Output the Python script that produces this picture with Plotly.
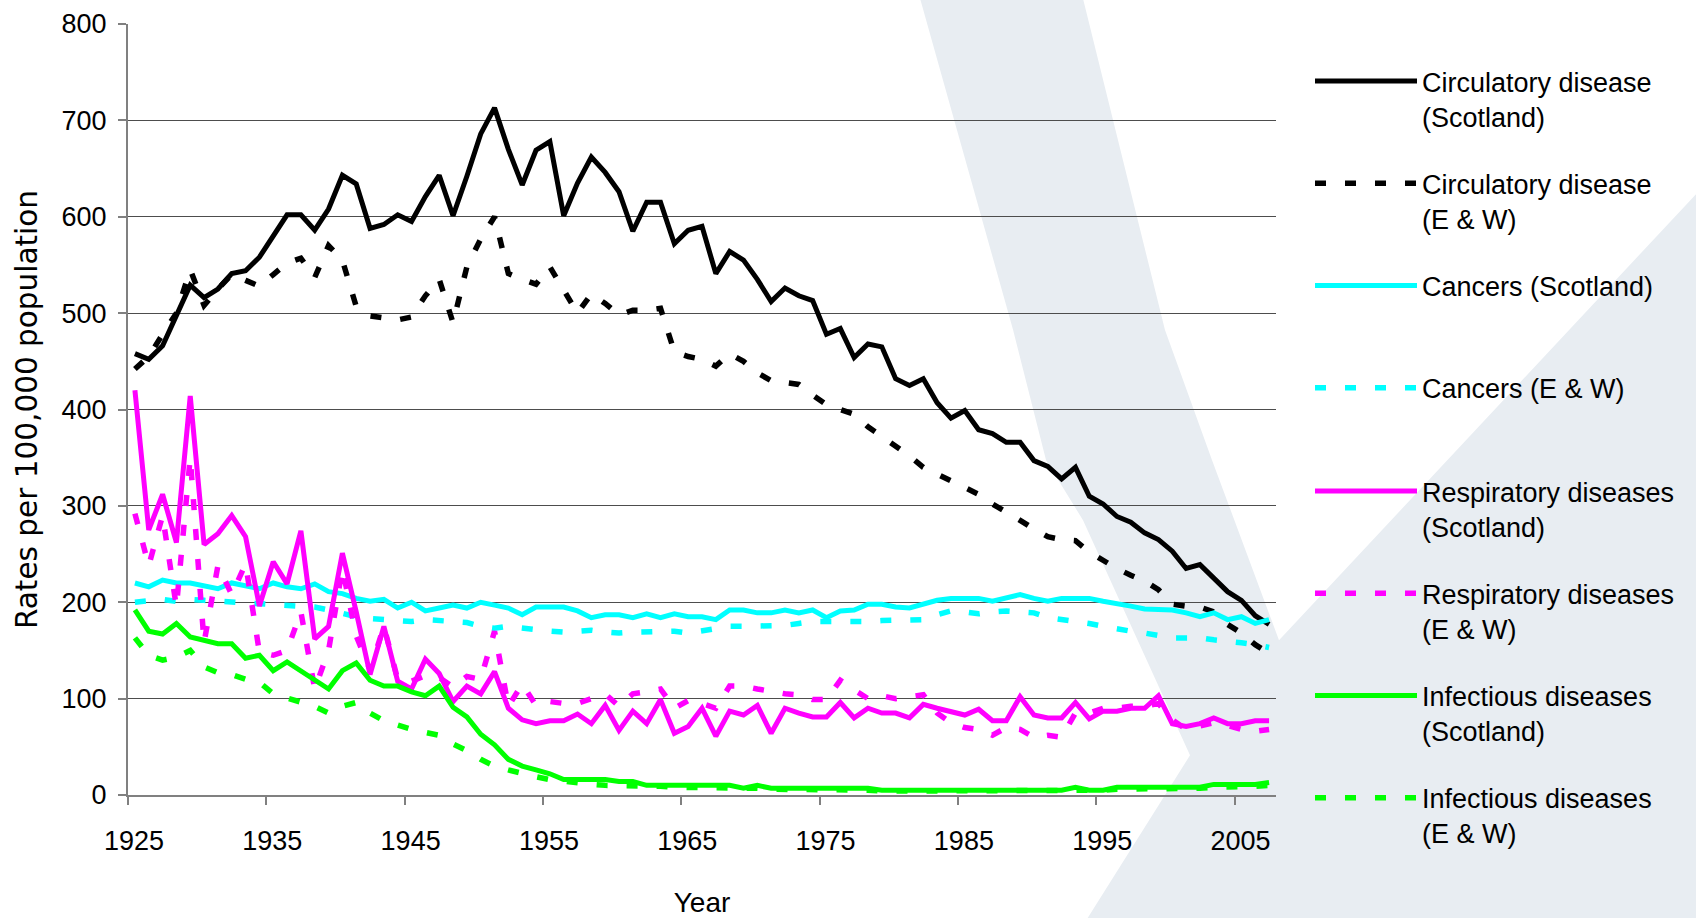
import plotly.graph_objects as go

years = list(range(1925, 2008))

circ_scot = [458, 452, 466, 497, 529, 516, 525, 541, 544, 558,
             579, 602, 602, 586, 608, 643, 634, 588, 592, 602,
             595, 621, 643, 601, 642, 686, 713, 670, 633, 669,
             678, 601, 635, 662, 646, 626, 585, 615, 615, 572,
             586, 590, 541, 564, 555, 535, 512, 526, 518, 513,
             478, 484, 454, 468, 465, 432, 425, 432, 407, 391,
             399, 379, 375, 366, 366, 347, 341, 328, 340, 310,
             302, 289, 283, 272, 265, 253, 235, 239, 225, 211,
             202, 186, 177]
circ_ew = [442, 455, 478, 500, 545, 508, 525, 540, 534, 528,
           540, 552, 557, 537, 570, 555, 507, 497, 495, 493,
           496, 518, 535, 490, 548, 577, 600, 541, 535, 530,
           548, 525, 500, 520, 510, 498, 503, 503, 505, 460,
           455, 452, 445, 458, 450, 438, 430, 428, 426, 415,
           405, 400, 395, 382, 372, 362, 352, 340, 333, 326,
           320, 312, 302, 294, 285, 276, 268, 265, 264, 252,
           243, 235, 228, 222, 213, 198, 196, 195, 190, 177,
           168, 156, 147]
canc_scot = [220, 216, 223, 220, 220, 217, 214, 220, 217, 214,
             220, 216, 214, 219, 211, 209, 204, 201, 203, 194,
             200, 191, 194, 197, 194, 200, 197, 194, 187, 195,
             195, 195, 191, 184, 187, 187, 184, 188, 184, 188,
             185, 185, 182, 192, 192, 189, 189, 192, 189, 192,
             184, 191, 192, 198, 198, 195, 194, 198, 202, 204,
             204, 204, 201, 204, 208, 204, 201, 204, 204, 204,
             201, 199, 196, 193, 192, 192, 189, 185, 189, 182,
             185, 178, 182]
canc_ew = [200, 201, 203, 201, 203, 202, 201, 200, 199, 198,
           198, 197, 196, 195, 192, 188, 185, 183, 182, 180,
           180, 182, 181, 180, 179, 175, 173, 175, 173, 172,
           170, 169, 170, 171, 169, 168, 169, 169, 169, 170,
           168, 170, 172, 175, 175, 175, 176, 176, 178, 180,
           180, 180, 179, 180, 181, 181, 181, 182, 187, 191,
           190, 188, 190, 191, 190, 189, 184, 182, 181, 178,
           175, 172, 170, 168, 165, 163, 163, 163, 161, 160,
           158, 156, 153]
resp_scot = [420, 275, 312, 262, 414, 260, 271, 290, 268, 196,
             242, 219, 274, 162, 175, 251, 190, 125, 175, 118,
             110, 141, 126, 97, 113, 105, 128, 90, 78, 74,
             77, 77, 84, 74, 93, 67, 87, 74, 99, 64,
             71, 90, 61, 87, 83, 93, 64, 90, 85, 81,
             81, 96, 80, 90, 85, 85, 80, 94, 90, 87,
             83, 89, 77, 77, 102, 83, 80, 80, 96, 79,
             87, 87, 90, 90, 103, 74, 71, 74, 80, 74,
             74, 77, 77]
resp_ew = [292, 238, 290, 195, 350, 158, 238, 208, 240, 148,
           145, 150, 190, 110, 150, 235, 165, 130, 175, 120,
           118, 124, 122, 112, 123, 120, 170, 92, 115, 93,
           97, 95, 95, 100, 105, 92, 105, 107, 110, 90,
           98, 95, 90, 113, 113, 110, 107, 105, 104, 99,
           99, 119, 109, 100, 103, 100, 102, 104, 85, 75,
           70, 68, 62, 70, 68, 60, 62, 60, 85, 85,
           90, 90, 92, 92, 95, 78, 68, 72, 75, 72,
           68, 66, 68]
inf_scot = [192, 170, 167, 178, 164, 161, 157, 157, 142, 145,
            129, 138, 129, 119, 110, 129, 137, 119, 113, 113,
            107, 103, 113, 91, 81, 63, 52, 37, 30, 26,
            22, 16, 16, 16, 16, 14, 14, 10, 10, 10,
            10, 10, 10, 10, 7, 10, 7, 7, 7, 7,
            7, 7, 7, 7, 5, 5, 5, 5, 5, 5,
            5, 5, 5, 5, 5, 5, 5, 5, 8, 5,
            5, 8, 8, 8, 8, 8, 8, 8, 11, 11,
            11, 11, 13]
inf_ew = [163, 145, 140, 143, 150, 133, 127, 125, 120, 117,
          105, 101, 97, 92, 85, 92, 96, 85, 77, 72,
          68, 65, 62, 53, 46, 37, 30, 26, 22, 19,
          16, 14, 12, 11, 10, 10, 9, 9, 9, 8,
          8, 8, 8, 7, 7, 7, 6, 6, 6, 6,
          5, 5, 5, 5, 4, 4, 4, 4, 4, 4,
          4, 4, 4, 4, 4, 4, 4, 4, 5, 5,
          5, 6, 6, 6, 6, 6, 6, 7, 8, 8,
          9, 9, 10]

series_names = ["Circulatory disease<br>(Scotland)", "Circulatory disease<br>(E & W)",
                "Cancers (Scotland)<br>&nbsp;", "Cancers (E & W)<br>&nbsp;",
                "Respiratory diseases<br>(Scotland)", "Respiratory diseases<br>(E & W)",
                "Infectious diseases<br>(Scotland)", "Infectious diseases<br>(E & W)"]
series_values = [circ_scot, circ_ew, canc_scot, canc_ew, resp_scot, resp_ew, inf_scot, inf_ew]
series_colors = ["#000000", "#000000", "#00FFFF", "#00FFFF",
                 "#FF00FF", "#FF00FF", "#00FF00", "#00FF00"]
series_dash = ["solid", "11px,19px"] * 4

tick_years = [1925, 1935, 1945, 1955, 1965, 1975, 1985, 1995, 2005]
y_ticks = [0, 100, 200, 300, 400, 500, 600, 700, 800]

W, H = 1696, 918
L, R, T, B = 127.6, 1276.0, 24.0, 794.7

FONT = "Liberation Sans, Arial, sans-serif"
FS = 27

fig = go.Figure()
for i, (name, vals) in enumerate(zip(series_names, series_values)):
    fig.add_trace(go.Scatter(
        x=years, y=vals, mode="lines", name=name,
        legendgroup="g%d" % i,
        legend="legend" if i < 4 else "legend2",
        line=dict(color=series_colors[i], width=5 if i % 2 == 0 else 5.5,
                  dash=series_dash[i]),
    ))


def px2paper(x, y):
    return ((x - L) / (R - L), (B - y) / (B - T))


wm_pts = [(919, -5), (1082, -5), (1165, 330), (1212, 460), (1279, 640), (1700, 190),
          (1700, 925), (1083, 925), (1190, 755), (1083, 520), (1046, 460), (1013, 330)]
path = ""
for k, (x, y) in enumerate(wm_pts):
    px, py = px2paper(x, y)
    path += ("M" if k == 0 else "L") + "%.4f,%.4f " % (px, py)
path += "Z"

legend_common = dict(
    xref="container", yref="container", xanchor="left", yanchor="top",
    x=1310 / W,
    font=dict(family=FONT, size=FS, color="black"),
    itemwidth=102, valign="top", tracegroupgap=29,
    bgcolor="rgba(0,0,0,0)", traceorder="grouped",
)

fig.update_layout(
    width=W, height=H,
    margin=dict(l=L, r=W - R, t=T, b=H - B, pad=0, autoexpand=False),
    paper_bgcolor="white", plot_bgcolor="rgba(0,0,0,0)",
    font=dict(family=FONT, size=FS, color="black"),
    showlegend=True,
    legend=dict(legend_common, y=1 - 57 / H),
    legend2=dict(legend_common, y=1 - 467 / H),
    shapes=[dict(type="path", xref="paper", yref="paper", path=path,
                 fillcolor="#E8EDF2", line=dict(width=0), layer="below")],
    xaxis=dict(
        range=[1924.5, 2007.5], tickmode="array", automargin=False,
        tickvals=[y - 0.5 for y in tick_years], ticktext=[str(y) for y in tick_years],
        ticklabelshift=6, ticklabelstandoff=13,
        ticks="outside", ticklen=8, tickwidth=1.5, tickcolor="#808080",
        showline=True, linecolor="#808080", linewidth=2, showgrid=False, zeroline=False,
        tickfont=dict(family=FONT, size=FS),
        title=dict(text="Year", font=dict(family=FONT, size=28), standoff=38),
    ),
    yaxis=dict(
        range=[0, 800], tickmode="array", tickvals=y_ticks, automargin=False,
        ticks="outside", ticklen=8, tickwidth=1.5, tickcolor="#808080",
        ticklabelstandoff=6,
        showline=True, linecolor="#808080", linewidth=2,
        showgrid=True, gridcolor="#4d4d4d", gridwidth=1.3, zeroline=False,
        tickfont=dict(family=FONT, size=FS),
        title=dict(text="Rates per 100,000 population",
                   font=dict(family="DejaVu Sans", size=29.5), standoff=15),
    ),
)

fig.write_html("out.html", config={"displayModeBar": False},
               post_script="document.body.style.margin='0';document.body.style.overflow='hidden';")
